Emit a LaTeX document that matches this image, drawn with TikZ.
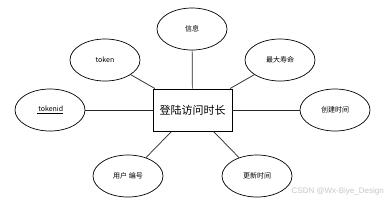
\documentclass[tikz,border=0pt]{standalone}
\usepackage{fontspec}
\setmainfont{Noto Sans CJK SC}
\newfontfamily\wmfont{Liberation Sans}
\usetikzlibrary{shapes.geometric}
\begin{document}
\begin{tikzpicture}[x=1pt,y=-1pt,
  attr/.style={draw=black, line width=0.7pt, ellipse, minimum width=70pt, minimum height=42pt, inner sep=0pt, font=\fontsize{7}{8}\selectfont},
  entity/.style={draw=black, line width=0.8pt, rectangle, minimum width=79pt, minimum height=42pt, inner sep=0pt, font=\fontsize{11}{12}\selectfont},
  link/.style={draw=black!85, line width=0.7pt}]
\useasboundingbox[fill=white] (0,0) rectangle (387,202);
\node[entity] (e) at (192.5,110) {登陆访问时长};
\node[attr] (info) at (192,29) {信息};
\node[attr] (token) at (105,60) {token};
\node[attr] (life) at (280,60) {最大寿命};
\node[attr] (tid) at (50,110) {\underline{\ tokenid}};
\node[attr] (ctime) at (335,110) {创建时间};
\node[attr] (uid) at (128,176) {用户 编号};
\node[attr] (utime) at (257,176) {更新时间};
\foreach \a in {info,token,life,tid,ctime,uid,utime}
  \draw[link] (\a) -- (e);
\node[anchor=east, text=black!22, font=\wmfont\fontsize{8}{9}\selectfont, inner sep=0pt] (wm) at (384,191) {CSDN @Wx-Biye\_Design};
\end{tikzpicture}
\end{document}
